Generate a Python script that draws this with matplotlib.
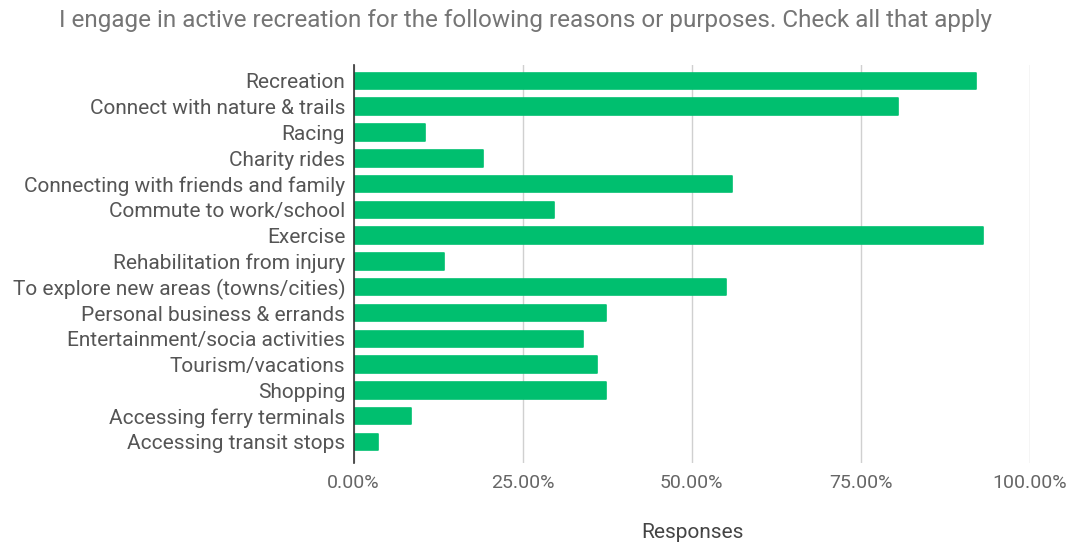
import matplotlib
matplotlib.use("Agg")
import matplotlib.pyplot as plt
from matplotlib.ticker import FuncFormatter

categories = [
    "Recreation",
    "Connect with nature & trails",
    "Racing",
    "Charity rides",
    "Connecting with friends and family",
    "Commute to work/school",
    "Exercise",
    "Rehabilitation from injury",
    "To explore new areas (towns/cities)",
    "Personal business & errands",
    "Entertainment/socia activities",
    "Tourism/vacations",
    "Shopping",
    "Accessing ferry terminals",
    "Accessing transit stops",
]
responses = [92.0, 80.5, 10.5, 19.1, 55.9, 29.7, 93.1, 13.4, 55.1, 37.3,
             33.9, 36.0, 37.3, 8.5, 3.6]
x_ticks = [0, 25, 50, 75, 100]

plt.rcParams['font.family'] = ['Roboto', 'DejaVu Sans']

fig = plt.figure(figsize=(10.73, 5.46), dpi=100)
ax = fig.add_axes([0.3295, 0.1527, 0.6305, 0.7275])

pos = list(range(len(categories)))
ax.barh(pos, responses, height=0.64, color="#00bf6f", edgecolor="#00bf6f",
        linewidth=1.2, joinstyle="round", zorder=3)

ax.set_ylim(len(categories) - 0.2, -0.6)
ax.set_xlim(0, 100)
ax.set_yticks(pos)
ax.set_yticklabels(categories, fontsize=15, color="#555555")
ax.set_xticks(x_ticks)
ax.xaxis.set_major_formatter(FuncFormatter(lambda v, p: f"{v:.2f}%"))
ax.tick_params(axis='x', labelsize=14, colors="#666666", length=0, pad=8)
ax.tick_params(axis='y', length=0, pad=6)

ax.grid(axis='x', color="#d0d0d0", linewidth=1, zorder=0)
for s in ["top", "right", "bottom"]:
    ax.spines[s].set_visible(False)
ax.spines["left"].set_color("#333333")
ax.spines["left"].set_linewidth(1.2)
ax.spines["left"].set_zorder(4)

fig.text(0.645, 1 - 533 / 546, "Responses", ha="center", va="center",
         fontsize=15, color="#444444")
fig.text(0.49, 1 - 20 / 546,
         "I engage in active recreation for the following reasons or purposes. Check all that apply",
         ha="center", va="center", fontsize=17.5, color="#757575")

fig.savefig("out.png", dpi=100, facecolor="white")
